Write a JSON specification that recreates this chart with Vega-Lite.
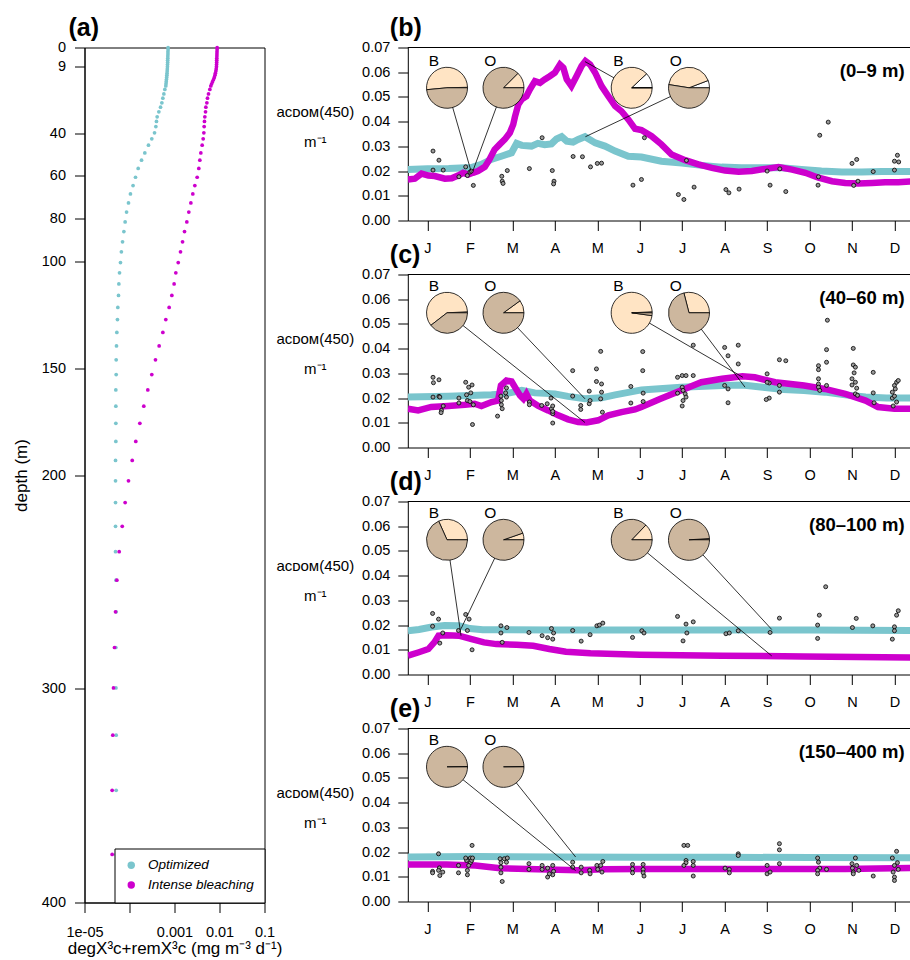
{
"$schema": "https://vega.github.io/schema/vega-lite/v6.json",
"background": "white",
"padding": {"left": 11.5, "top": 15.5, "right": 0, "bottom": 0},
"config": {
 "font": "Liberation Sans",
 "view": {"stroke": null},
 "axis": {"grid": false, "domainColor": "black", "tickColor": "black", "labelColor": "black", "titleColor": "black", "labelFontSize": 14.5, "titleFontSize": 17, "titleFontWeight": "normal", "tickSize": 10, "domainWidth": 1, "tickWidth": 1, "labelFlush": false, "labelOverlap": false, "labelBound": false},
 "title": {"fontSize": 25, "fontWeight": "bold", "anchor": "start", "color": "black", "frame": "group", "baseline": "alphabetic", "offset": -1.7}
},
"datasets": {
 "profile": [
  {"d":0,"m":"Optimized","x":0.00072},{"d":1,"m":"Optimized","x":0.00072},{"d":2,"m":"Optimized","x":0.000715},{"d":3,"m":"Optimized","x":0.000715},{"d":4,"m":"Optimized","x":0.00071},{"d":5,"m":"Optimized","x":0.00071},{"d":6,"m":"Optimized","x":0.000705},{"d":7,"m":"Optimized","x":0.000705},{"d":8,"m":"Optimized","x":0.0007},{"d":9,"m":"Optimized","x":0.000698},{"d":10,"m":"Optimized","x":0.000693},{"d":11,"m":"Optimized","x":0.000688},{"d":12,"m":"Optimized","x":0.000682},{"d":13,"m":"Optimized","x":0.000676},{"d":14,"m":"Optimized","x":0.00067},{"d":15,"m":"Optimized","x":0.000662},{"d":16,"m":"Optimized","x":0.000655},{"d":17,"m":"Optimized","x":0.000648},{"d":18,"m":"Optimized","x":0.000641},
  {"d":19.6,"m":"Optimized","x":0.00061},{"d":21.7,"m":"Optimized","x":0.00058},{"d":23.7,"m":"Optimized","x":0.000551},{"d":25.9,"m":"Optimized","x":0.000524},{"d":27.9,"m":"Optimized","x":0.000489},{"d":30.1,"m":"Optimized","x":0.000449},{"d":32.4,"m":"Optimized","x":0.000412},{"d":34.6,"m":"Optimized","x":0.000398},{"d":37,"m":"Optimized","x":0.000385},{"d":39.9,"m":"Optimized","x":0.00036},{"d":42.7,"m":"Optimized","x":0.000313},{"d":45.7,"m":"Optimized","x":0.000264},{"d":49.3,"m":"Optimized","x":0.000219},{"d":52.7,"m":"Optimized","x":0.000185},{"d":56.6,"m":"Optimized","x":0.000156},{"d":60.7,"m":"Optimized","x":0.000136},{"d":64.6,"m":"Optimized","x":0.00012},{"d":68.5,"m":"Optimized","x":0.000105},{"d":72.7,"m":"Optimized","x":0.000095},{"d":77,"m":"Optimized","x":0.000086},{"d":81.6,"m":"Optimized","x":0.00008},{"d":86.1,"m":"Optimized","x":0.000075},{"d":90.9,"m":"Optimized","x":0.00007},{"d":95.6,"m":"Optimized","x":0.000066},{"d":100.6,"m":"Optimized","x":0.000063},{"d":105.4,"m":"Optimized","x":0.00006},{"d":110.6,"m":"Optimized","x":0.000058},{"d":116,"m":"Optimized","x":0.000057},{"d":121.6,"m":"Optimized","x":0.000055},{"d":127.3,"m":"Optimized","x":0.000054},{"d":133.3,"m":"Optimized","x":0.0000524},{"d":139.6,"m":"Optimized","x":0.0000514},{"d":146.1,"m":"Optimized","x":0.0000506},{"d":153,"m":"Optimized","x":0.0000506},{"d":160.2,"m":"Optimized","x":0.0000497},{"d":167.8,"m":"Optimized","x":0.0000497},{"d":175.8,"m":"Optimized","x":0.0000497},{"d":184.3,"m":"Optimized","x":0.0000497},{"d":193.2,"m":"Optimized","x":0.0000489},{"d":202.7,"m":"Optimized","x":0.0000489},{"d":212.9,"m":"Optimized","x":0.0000489},{"d":224,"m":"Optimized","x":0.0000489},{"d":235.9,"m":"Optimized","x":0.0000489},{"d":249.2,"m":"Optimized","x":0.00005},{"d":264,"m":"Optimized","x":0.0000506},{"d":280.7,"m":"Optimized","x":0.0000497},{"d":299.6,"m":"Optimized","x":0.00005},{"d":321.7,"m":"Optimized","x":0.0000506},{"d":347.5,"m":"Optimized","x":0.0000506},{"d":377.5,"m":"Optimized","x":0.0000506},
  {"d":0,"m":"Intense bleaching","x":0.00887},{"d":1,"m":"Intense bleaching","x":0.00885},{"d":2,"m":"Intense bleaching","x":0.0088},{"d":3,"m":"Intense bleaching","x":0.00878},{"d":4,"m":"Intense bleaching","x":0.00875},{"d":5,"m":"Intense bleaching","x":0.0087},{"d":6,"m":"Intense bleaching","x":0.00868},{"d":7,"m":"Intense bleaching","x":0.00865},{"d":8,"m":"Intense bleaching","x":0.0086},{"d":9,"m":"Intense bleaching","x":0.00857},{"d":10,"m":"Intense bleaching","x":0.00845},{"d":11,"m":"Intense bleaching","x":0.0083},{"d":12,"m":"Intense bleaching","x":0.0081},{"d":13,"m":"Intense bleaching","x":0.0079},{"d":14,"m":"Intense bleaching","x":0.00765},{"d":15,"m":"Intense bleaching","x":0.00735},{"d":16,"m":"Intense bleaching","x":0.007},{"d":17,"m":"Intense bleaching","x":0.0067},{"d":18,"m":"Intense bleaching","x":0.00641},
  {"d":19.6,"m":"Intense bleaching","x":0.0061},{"d":21.7,"m":"Intense bleaching","x":0.0057},{"d":23.7,"m":"Intense bleaching","x":0.00541},{"d":25.9,"m":"Intense bleaching","x":0.00524},{"d":27.9,"m":"Intense bleaching","x":0.00497},{"d":30.1,"m":"Intense bleaching","x":0.00489},{"d":32.4,"m":"Intense bleaching","x":0.00472},{"d":34.6,"m":"Intense bleaching","x":0.00464},{"d":37,"m":"Intense bleaching","x":0.00456},{"d":39.9,"m":"Intense bleaching","x":0.00449},{"d":42.7,"m":"Intense bleaching","x":0.00434},{"d":45.7,"m":"Intense bleaching","x":0.00412},{"d":49.3,"m":"Intense bleaching","x":0.00385},{"d":52.7,"m":"Intense bleaching","x":0.00366},{"d":56.6,"m":"Intense bleaching","x":0.00347},{"d":60.7,"m":"Intense bleaching","x":0.00319},{"d":64.6,"m":"Intense bleaching","x":0.00283},{"d":68.5,"m":"Intense bleaching","x":0.00255},{"d":72.7,"m":"Intense bleaching","x":0.00231},{"d":77,"m":"Intense bleaching","x":0.00208},{"d":81.6,"m":"Intense bleaching","x":0.00188},{"d":86.1,"m":"Intense bleaching","x":0.00167},{"d":90.9,"m":"Intense bleaching","x":0.00151},{"d":95.6,"m":"Intense bleaching","x":0.00136},{"d":100.6,"m":"Intense bleaching","x":0.00121},{"d":105.4,"m":"Intense bleaching","x":0.00107},{"d":110.6,"m":"Intense bleaching","x":0.00098},{"d":116,"m":"Intense bleaching","x":0.000873},{"d":121.6,"m":"Intense bleaching","x":0.00076},{"d":127.3,"m":"Intense bleaching","x":0.000641},{"d":133.3,"m":"Intense bleaching","x":0.000551},{"d":139.6,"m":"Intense bleaching","x":0.000456},{"d":146.1,"m":"Intense bleaching","x":0.000378},{"d":153,"m":"Intense bleaching","x":0.000313},{"d":160.2,"m":"Intense bleaching","x":0.000255},{"d":167.8,"m":"Intense bleaching","x":0.000208},{"d":175.8,"m":"Intense bleaching","x":0.00017},{"d":184.3,"m":"Intense bleaching","x":0.000138},{"d":193.2,"m":"Intense bleaching","x":0.000115},{"d":202.7,"m":"Intense bleaching","x":0.000095},{"d":212.9,"m":"Intense bleaching","x":0.00008},{"d":224,"m":"Intense bleaching","x":0.000069},{"d":235.9,"m":"Intense bleaching","x":0.000059},{"d":249.2,"m":"Intense bleaching","x":0.0000524},{"d":264,"m":"Intense bleaching","x":0.0000489},{"d":280.7,"m":"Intense bleaching","x":0.0000464},{"d":299.6,"m":"Intense bleaching","x":0.0000441},{"d":321.7,"m":"Intense bleaching","x":0.0000426},{"d":347.5,"m":"Intense bleaching","x":0.0000412},{"d":377.5,"m":"Intense bleaching","x":0.0000412}
 ],
 "series": [
  {"p":"b","m":"O","t":0.54,"v":0.0206},{"p":"b","m":"O","t":1.0,"v":0.0209},{"p":"b","m":"O","t":1.5,"v":0.021},{"p":"b","m":"O","t":1.9,"v":0.0213},{"p":"b","m":"O","t":2.03,"v":0.0214},{"p":"b","m":"O","t":2.27,"v":0.0227},{"p":"b","m":"O","t":2.5,"v":0.0247},{"p":"b","m":"O","t":2.74,"v":0.026},{"p":"b","m":"O","t":2.98,"v":0.0274},{"p":"b","m":"O","t":3.1,"v":0.0312},{"p":"b","m":"O","t":3.22,"v":0.0304},{"p":"b","m":"O","t":3.45,"v":0.0301},{"p":"b","m":"O","t":3.6,"v":0.0312},{"p":"b","m":"O","t":3.76,"v":0.0307},{"p":"b","m":"O","t":3.92,"v":0.031},{"p":"b","m":"O","t":4.04,"v":0.033},{"p":"b","m":"O","t":4.16,"v":0.0339},{"p":"b","m":"O","t":4.28,"v":0.0321},{"p":"b","m":"O","t":4.43,"v":0.0317},{"p":"b","m":"O","t":4.55,"v":0.0328},{"p":"b","m":"O","t":4.71,"v":0.0339},{"p":"b","m":"O","t":4.95,"v":0.0314},{"p":"b","m":"O","t":5.18,"v":0.0301},{"p":"b","m":"O","t":5.42,"v":0.0281},{"p":"b","m":"O","t":5.73,"v":0.026},{"p":"b","m":"O","t":6.04,"v":0.0257},{"p":"b","m":"O","t":6.51,"v":0.024},{"p":"b","m":"O","t":6.99,"v":0.0233},{"p":"b","m":"O","t":7.46,"v":0.0223},{"p":"b","m":"O","t":7.93,"v":0.0216},{"p":"b","m":"O","t":8.4,"v":0.0213},{"p":"b","m":"O","t":8.87,"v":0.0213},{"p":"b","m":"O","t":9.34,"v":0.0213},{"p":"b","m":"O","t":9.81,"v":0.0206},{"p":"b","m":"O","t":10.28,"v":0.02},{"p":"b","m":"O","t":10.76,"v":0.0196},{"p":"b","m":"O","t":11.23,"v":0.0196},{"p":"b","m":"O","t":11.7,"v":0.0198},{"p":"b","m":"O","t":12.17,"v":0.0198},{"p":"b","m":"O","t":12.4,"v":0.0198},
  {"p":"b","m":"B","t":0.54,"v":0.0166},{"p":"b","m":"B","t":0.7,"v":0.0169},{"p":"b","m":"B","t":0.86,"v":0.019},{"p":"b","m":"B","t":1.02,"v":0.0182},{"p":"b","m":"B","t":1.17,"v":0.018},{"p":"b","m":"B","t":1.41,"v":0.0169},{"p":"b","m":"B","t":1.57,"v":0.0171},{"p":"b","m":"B","t":1.72,"v":0.0182},{"p":"b","m":"B","t":1.84,"v":0.0193},{"p":"b","m":"B","t":1.96,"v":0.0186},{"p":"b","m":"B","t":2.07,"v":0.0193},{"p":"b","m":"B","t":2.19,"v":0.02},{"p":"b","m":"B","t":2.35,"v":0.0217},{"p":"b","m":"B","t":2.46,"v":0.0247},{"p":"b","m":"B","t":2.58,"v":0.0287},{"p":"b","m":"B","t":2.7,"v":0.0308},{"p":"b","m":"B","t":2.82,"v":0.0328},{"p":"b","m":"B","t":2.94,"v":0.0355},{"p":"b","m":"B","t":3.02,"v":0.0389},{"p":"b","m":"B","t":3.06,"v":0.042},{"p":"b","m":"B","t":3.14,"v":0.047},{"p":"b","m":"B","t":3.22,"v":0.049},{"p":"b","m":"B","t":3.33,"v":0.0503},{"p":"b","m":"B","t":3.41,"v":0.053},{"p":"b","m":"B","t":3.53,"v":0.0564},{"p":"b","m":"B","t":3.65,"v":0.0557},{"p":"b","m":"B","t":3.76,"v":0.0571},{"p":"b","m":"B","t":3.88,"v":0.0584},{"p":"b","m":"B","t":4.0,"v":0.0598},{"p":"b","m":"B","t":4.12,"v":0.0631},{"p":"b","m":"B","t":4.2,"v":0.0618},{"p":"b","m":"B","t":4.28,"v":0.0571},{"p":"b","m":"B","t":4.39,"v":0.0544},{"p":"b","m":"B","t":4.51,"v":0.0584},{"p":"b","m":"B","t":4.63,"v":0.0625},{"p":"b","m":"B","t":4.72,"v":0.0645},{"p":"b","m":"B","t":4.83,"v":0.0631},{"p":"b","m":"B","t":4.95,"v":0.0598},{"p":"b","m":"B","t":5.1,"v":0.0544},{"p":"b","m":"B","t":5.26,"v":0.0503},{"p":"b","m":"B","t":5.42,"v":0.0463},{"p":"b","m":"B","t":5.57,"v":0.0442},{"p":"b","m":"B","t":5.73,"v":0.0409},{"p":"b","m":"B","t":5.89,"v":0.0371},{"p":"b","m":"B","t":6.04,"v":0.0366},{"p":"b","m":"B","t":6.28,"v":0.0341},{"p":"b","m":"B","t":6.51,"v":0.0308},{"p":"b","m":"B","t":6.75,"v":0.0267},{"p":"b","m":"B","t":7.07,"v":0.0244},{"p":"b","m":"B","t":7.38,"v":0.0227},{"p":"b","m":"B","t":7.7,"v":0.0213},{"p":"b","m":"B","t":8.01,"v":0.0202},{"p":"b","m":"B","t":8.33,"v":0.0197},{"p":"b","m":"B","t":8.64,"v":0.02},{"p":"b","m":"B","t":8.96,"v":0.0209},{"p":"b","m":"B","t":9.27,"v":0.0216},{"p":"b","m":"B","t":9.59,"v":0.0206},{"p":"b","m":"B","t":9.9,"v":0.0193},{"p":"b","m":"B","t":10.21,"v":0.0173},{"p":"b","m":"B","t":10.53,"v":0.0159},{"p":"b","m":"B","t":10.84,"v":0.0152},{"p":"b","m":"B","t":11.15,"v":0.015},{"p":"b","m":"B","t":11.47,"v":0.0152},{"p":"b","m":"B","t":11.78,"v":0.0155},{"p":"b","m":"B","t":12.09,"v":0.0155},{"p":"b","m":"B","t":12.4,"v":0.0158},
  {"p":"c","m":"O","t":0.54,"v":0.0204},{"p":"c","m":"O","t":1.49,"v":0.0207},{"p":"c","m":"O","t":2.51,"v":0.0213},{"p":"c","m":"O","t":2.82,"v":0.0217},{"p":"c","m":"O","t":3.22,"v":0.0231},{"p":"c","m":"O","t":3.53,"v":0.0221},{"p":"c","m":"O","t":4.0,"v":0.0217},{"p":"c","m":"O","t":4.31,"v":0.0207},{"p":"c","m":"O","t":4.71,"v":0.0197},{"p":"c","m":"O","t":5.1,"v":0.0201},{"p":"c","m":"O","t":5.42,"v":0.0213},{"p":"c","m":"O","t":6.04,"v":0.0233},{"p":"c","m":"O","t":6.97,"v":0.0244},{"p":"c","m":"O","t":7.94,"v":0.0251},{"p":"c","m":"O","t":8.42,"v":0.0253},{"p":"c","m":"O","t":8.9,"v":0.0244},{"p":"c","m":"O","t":9.39,"v":0.0235},{"p":"c","m":"O","t":9.87,"v":0.0231},{"p":"c","m":"O","t":10.36,"v":0.0224},{"p":"c","m":"O","t":10.84,"v":0.0213},{"p":"c","m":"O","t":11.32,"v":0.0204},{"p":"c","m":"O","t":11.81,"v":0.02},{"p":"c","m":"O","t":12.4,"v":0.02},
  {"p":"c","m":"B","t":0.54,"v":0.0157},{"p":"c","m":"B","t":0.78,"v":0.015},{"p":"c","m":"B","t":1.09,"v":0.0164},{"p":"c","m":"B","t":1.49,"v":0.0168},{"p":"c","m":"B","t":1.88,"v":0.0173},{"p":"c","m":"B","t":2.11,"v":0.0177},{"p":"c","m":"B","t":2.27,"v":0.0168},{"p":"c","m":"B","t":2.51,"v":0.0184},{"p":"c","m":"B","t":2.66,"v":0.019},{"p":"c","m":"B","t":2.73,"v":0.0251},{"p":"c","m":"B","t":2.86,"v":0.0271},{"p":"c","m":"B","t":2.98,"v":0.0267},{"p":"c","m":"B","t":3.06,"v":0.0244},{"p":"c","m":"B","t":3.18,"v":0.0211},{"p":"c","m":"B","t":3.26,"v":0.0197},{"p":"c","m":"B","t":3.33,"v":0.0217},{"p":"c","m":"B","t":3.41,"v":0.019},{"p":"c","m":"B","t":3.61,"v":0.0168},{"p":"c","m":"B","t":3.84,"v":0.015},{"p":"c","m":"B","t":4.08,"v":0.013},{"p":"c","m":"B","t":4.31,"v":0.0114},{"p":"c","m":"B","t":4.55,"v":0.0103},{"p":"c","m":"B","t":4.75,"v":0.0101},{"p":"c","m":"B","t":5.02,"v":0.011},{"p":"c","m":"B","t":5.26,"v":0.013},{"p":"c","m":"B","t":5.57,"v":0.0143},{"p":"c","m":"B","t":5.89,"v":0.0154},{"p":"c","m":"B","t":6.04,"v":0.0164},{"p":"c","m":"B","t":6.49,"v":0.0197},{"p":"c","m":"B","t":6.97,"v":0.0231},{"p":"c","m":"B","t":7.45,"v":0.0264},{"p":"c","m":"B","t":7.94,"v":0.0278},{"p":"c","m":"B","t":8.42,"v":0.0288},{"p":"c","m":"B","t":8.71,"v":0.0284},{"p":"c","m":"B","t":9.19,"v":0.0264},{"p":"c","m":"B","t":9.87,"v":0.0251},{"p":"c","m":"B","t":10.36,"v":0.0237},{"p":"c","m":"B","t":10.84,"v":0.0217},{"p":"c","m":"B","t":11.32,"v":0.019},{"p":"c","m":"B","t":11.61,"v":0.0164},{"p":"c","m":"B","t":12.0,"v":0.0157},{"p":"c","m":"B","t":12.4,"v":0.0157},
  {"p":"d","m":"O","t":0.54,"v":0.0177},{"p":"d","m":"O","t":0.8,"v":0.0182},{"p":"d","m":"O","t":1.1,"v":0.0192},{"p":"d","m":"O","t":1.4,"v":0.0198},{"p":"d","m":"O","t":1.74,"v":0.0197},{"p":"d","m":"O","t":2.0,"v":0.0186},{"p":"d","m":"O","t":2.3,"v":0.0181},{"p":"d","m":"O","t":4.0,"v":0.018},{"p":"d","m":"O","t":6.0,"v":0.018},{"p":"d","m":"O","t":8.0,"v":0.018},{"p":"d","m":"O","t":10.0,"v":0.018},{"p":"d","m":"O","t":12.4,"v":0.0178},
  {"p":"d","m":"B","t":0.54,"v":0.0076},{"p":"d","m":"B","t":0.78,"v":0.0089},{"p":"d","m":"B","t":1.02,"v":0.0103},{"p":"d","m":"B","t":1.16,"v":0.013},{"p":"d","m":"B","t":1.26,"v":0.0157},{"p":"d","m":"B","t":1.45,"v":0.0159},{"p":"d","m":"B","t":1.74,"v":0.0157},{"p":"d","m":"B","t":2.04,"v":0.0143},{"p":"d","m":"B","t":2.33,"v":0.013},{"p":"d","m":"B","t":2.62,"v":0.0123},{"p":"d","m":"B","t":3.1,"v":0.012},{"p":"d","m":"B","t":3.49,"v":0.0116},{"p":"d","m":"B","t":3.87,"v":0.0103},{"p":"d","m":"B","t":4.26,"v":0.0092},{"p":"d","m":"B","t":4.84,"v":0.0086},{"p":"d","m":"B","t":6.0,"v":0.008},{"p":"d","m":"B","t":7.94,"v":0.0076},{"p":"d","m":"B","t":9.87,"v":0.0073},{"p":"d","m":"B","t":12.4,"v":0.0069},
  {"p":"e","m":"O","t":0.54,"v":0.018},{"p":"e","m":"O","t":2.13,"v":0.0182},{"p":"e","m":"O","t":4.0,"v":0.018},{"p":"e","m":"O","t":6.0,"v":0.0179},{"p":"e","m":"O","t":8.0,"v":0.0179},{"p":"e","m":"O","t":10.0,"v":0.0178},{"p":"e","m":"O","t":12.4,"v":0.0177},
  {"p":"e","m":"B","t":0.54,"v":0.015},{"p":"e","m":"B","t":1.45,"v":0.015},{"p":"e","m":"B","t":2.13,"v":0.0146},{"p":"e","m":"B","t":2.71,"v":0.0135},{"p":"e","m":"B","t":3.58,"v":0.013},{"p":"e","m":"B","t":4.55,"v":0.0126},{"p":"e","m":"B","t":5.13,"v":0.013},{"p":"e","m":"B","t":6.0,"v":0.0132},{"p":"e","m":"B","t":8.0,"v":0.0132},{"p":"e","m":"B","t":10.84,"v":0.0132},{"p":"e","m":"B","t":12.4,"v":0.0136}
 ],
 "obs": [
  {"p":"b","t":1.13,"v":0.0281},{"p":"b","t":1.27,"v":0.0244},{"p":"b","t":1.13,"v":0.0204},{"p":"b","t":1.37,"v":0.0204},{"p":"b","t":1.74,"v":0.0177},{"p":"b","t":1.9,"v":0.0217},{"p":"b","t":1.94,"v":0.0182},{"p":"b","t":2.0,"v":0.0196},{"p":"b","t":2.03,"v":0.02},{"p":"b","t":2.08,"v":0.0142},{"p":"b","t":2.75,"v":0.0179},{"p":"b","t":2.76,"v":0.0159},{"p":"b","t":2.78,"v":0.015},{"p":"b","t":2.88,"v":0.0202},{"p":"b","t":3.4,"v":0.021},{"p":"b","t":3.7,"v":0.0335},{"p":"b","t":3.94,"v":0.0202},{"p":"b","t":3.98,"v":0.0159},{"p":"b","t":3.97,"v":0.0148},{"p":"b","t":4.43,"v":0.0259},{"p":"b","t":4.65,"v":0.0258},{"p":"b","t":4.84,"v":0.0217},{"p":"b","t":5.0,"v":0.0231},{"p":"b","t":5.1,"v":0.0232},{"p":"b","t":5.84,"v":0.0143},{"p":"b","t":6.04,"v":0.0166},{"p":"b","t":6.11,"v":0.0335},{"p":"b","t":6.91,"v":0.0105},{"p":"b","t":7.04,"v":0.0085},{"p":"b","t":7.1,"v":0.0243},{"p":"b","t":7.28,"v":0.0135},{"p":"b","t":8.03,"v":0.0125},{"p":"b","t":8.1,"v":0.0112},{"p":"b","t":8.34,"v":0.0127},{"p":"b","t":9.0,"v":0.02},{"p":"b","t":9.07,"v":0.0143},{"p":"b","t":9.3,"v":0.0209},{"p":"b","t":9.44,"v":0.0117},{"p":"b","t":10.21,"v":0.0177},{"p":"b","t":10.2,"v":0.0143},{"p":"b","t":10.24,"v":0.0345},{"p":"b","t":10.44,"v":0.0398},{"p":"b","t":11.0,"v":0.0231},{"p":"b","t":11.11,"v":0.0247},{"p":"b","t":11.04,"v":0.0142},{"p":"b","t":11.14,"v":0.0159},{"p":"b","t":11.5,"v":0.0198},{"p":"b","t":12.0,"v":0.0204},{"p":"b","t":12.07,"v":0.0264},{"p":"b","t":12.0,"v":0.024},{"p":"b","t":12.1,"v":0.0237},
  {"p":"c","t":1.13,"v":0.0284},{"p":"c","t":1.14,"v":0.0262},{"p":"c","t":1.27,"v":0.0274},{"p":"c","t":1.13,"v":0.0204},{"p":"c","t":1.27,"v":0.0207},{"p":"c","t":1.29,"v":0.0204},{"p":"c","t":1.37,"v":0.0168},{"p":"c","t":1.33,"v":0.015},{"p":"c","t":1.32,"v":0.0141},{"p":"c","t":1.74,"v":0.02},{"p":"c","t":1.74,"v":0.018},{"p":"c","t":1.9,"v":0.0264},{"p":"c","t":1.92,"v":0.0213},{"p":"c","t":1.97,"v":0.0244},{"p":"c","t":2.02,"v":0.0221},{"p":"c","t":2.05,"v":0.0253},{"p":"c","t":1.94,"v":0.019},{"p":"c","t":2.0,"v":0.0186},{"p":"c","t":2.08,"v":0.0173},{"p":"c","t":2.06,"v":0.0093},{"p":"c","t":2.65,"v":0.0127},{"p":"c","t":2.73,"v":0.0208},{"p":"c","t":2.74,"v":0.019},{"p":"c","t":2.74,"v":0.0173},{"p":"c","t":2.76,"v":0.0157},{"p":"c","t":2.84,"v":0.0221},{"p":"c","t":2.86,"v":0.0241},{"p":"c","t":2.86,"v":0.0204},{"p":"c","t":3.4,"v":0.0184},{"p":"c","t":3.4,"v":0.0173},{"p":"c","t":3.69,"v":0.017},{"p":"c","t":3.82,"v":0.0177},{"p":"c","t":3.91,"v":0.02},{"p":"c","t":3.92,"v":0.0157},{"p":"c","t":3.95,"v":0.0168},{"p":"c","t":3.95,"v":0.0137},{"p":"c","t":3.95,"v":0.0099},{"p":"c","t":3.95,"v":0.0146},{"p":"c","t":4.42,"v":0.0311},{"p":"c","t":4.42,"v":0.0208},{"p":"c","t":4.61,"v":0.017},{"p":"c","t":4.61,"v":0.0154},{"p":"c","t":4.81,"v":0.0228},{"p":"c","t":4.81,"v":0.0177},{"p":"c","t":4.83,"v":0.019},{"p":"c","t":4.98,"v":0.0318},{"p":"c","t":4.98,"v":0.0267},{"p":"c","t":5.08,"v":0.0389},{"p":"c","t":5.1,"v":0.0257},{"p":"c","t":5.1,"v":0.0224},{"p":"c","t":5.08,"v":0.0197},{"p":"c","t":5.12,"v":0.0143},{"p":"c","t":5.79,"v":0.0247},{"p":"c","t":5.79,"v":0.018},{"p":"c","t":6.07,"v":0.0388},{"p":"c","t":6.07,"v":0.0311},{"p":"c","t":6.08,"v":0.022},{"p":"c","t":6.08,"v":0.0186},{"p":"c","t":6.89,"v":0.0284},{"p":"c","t":7.0,"v":0.0291},{"p":"c","t":7.09,"v":0.0291},{"p":"c","t":7.26,"v":0.0291},{"p":"c","t":7.0,"v":0.0244},{"p":"c","t":7.02,"v":0.0231},{"p":"c","t":7.07,"v":0.0217},{"p":"c","t":7.09,"v":0.0204},{"p":"c","t":7.02,"v":0.019},{"p":"c","t":7.0,"v":0.0168},{"p":"c","t":6.89,"v":0.022},{"p":"c","t":7.26,"v":0.0414},{"p":"c","t":8.0,"v":0.0405},{"p":"c","t":8.08,"v":0.0371},{"p":"c","t":8.32,"v":0.0414},{"p":"c","t":8.32,"v":0.0338},{"p":"c","t":8.0,"v":0.0251},{"p":"c","t":8.08,"v":0.0237},{"p":"c","t":8.08,"v":0.0181},{"p":"c","t":9.0,"v":0.0298},{"p":"c","t":9.05,"v":0.0261},{"p":"c","t":9.0,"v":0.0264},{"p":"c","t":9.05,"v":0.02},{"p":"c","t":8.98,"v":0.0194},{"p":"c","t":9.29,"v":0.0251},{"p":"c","t":9.29,"v":0.0224},{"p":"c","t":9.29,"v":0.0355},{"p":"c","t":9.44,"v":0.0351},{"p":"c","t":10.21,"v":0.0331},{"p":"c","t":10.21,"v":0.0315},{"p":"c","t":10.21,"v":0.0278},{"p":"c","t":10.21,"v":0.0257},{"p":"c","t":10.21,"v":0.0244},{"p":"c","t":10.24,"v":0.0231},{"p":"c","t":10.4,"v":0.0345},{"p":"c","t":10.4,"v":0.0396},{"p":"c","t":10.42,"v":0.0515},{"p":"c","t":10.4,"v":0.0251},{"p":"c","t":11.03,"v":0.0401},{"p":"c","t":11.03,"v":0.0334},{"p":"c","t":11.08,"v":0.0325},{"p":"c","t":11.05,"v":0.0302},{"p":"c","t":11.0,"v":0.0278},{"p":"c","t":11.08,"v":0.0264},{"p":"c","t":11.0,"v":0.0253},{"p":"c","t":11.11,"v":0.024},{"p":"c","t":11.08,"v":0.0217},{"p":"c","t":11.13,"v":0.0211},{"p":"c","t":11.5,"v":0.0304},{"p":"c","t":11.5,"v":0.0221},{"p":"c","t":11.52,"v":0.0181},{"p":"c","t":11.95,"v":0.0224},{"p":"c","t":12.0,"v":0.0251},{"p":"c","t":12.05,"v":0.0264},{"p":"c","t":12.09,"v":0.0271},{"p":"c","t":11.95,"v":0.02},{"p":"c","t":12.0,"v":0.0208},{"p":"c","t":11.97,"v":0.0168},{"p":"c","t":12.05,"v":0.0184},{"p":"c","t":12.02,"v":0.0237},
  {"p":"d","t":1.12,"v":0.0247},{"p":"d","t":1.12,"v":0.0195},{"p":"d","t":1.26,"v":0.0224},{"p":"d","t":1.36,"v":0.0168},{"p":"d","t":1.29,"v":0.0127},{"p":"d","t":1.73,"v":0.0178},{"p":"d","t":1.9,"v":0.0243},{"p":"d","t":1.98,"v":0.0224},{"p":"d","t":1.94,"v":0.0178},{"p":"d","t":2.05,"v":0.01},{"p":"d","t":2.73,"v":0.0197},{"p":"d","t":2.87,"v":0.019},{"p":"d","t":2.73,"v":0.0168},{"p":"d","t":2.76,"v":0.013},{"p":"d","t":3.39,"v":0.017},{"p":"d","t":3.7,"v":0.0157},{"p":"d","t":3.83,"v":0.0149},{"p":"d","t":3.92,"v":0.0186},{"p":"d","t":3.97,"v":0.0168},{"p":"d","t":3.95,"v":0.0143},{"p":"d","t":4.42,"v":0.0178},{"p":"d","t":4.62,"v":0.0135},{"p":"d","t":4.83,"v":0.0161},{"p":"d","t":4.99,"v":0.0197},{"p":"d","t":5.05,"v":0.02},{"p":"d","t":5.13,"v":0.0208},{"p":"d","t":5.83,"v":0.015},{"p":"d","t":6.05,"v":0.0177},{"p":"d","t":6.1,"v":0.0168},{"p":"d","t":6.89,"v":0.0235},{"p":"d","t":7.02,"v":0.0136},{"p":"d","t":7.09,"v":0.0204},{"p":"d","t":7.11,"v":0.0168},{"p":"d","t":7.26,"v":0.0213},{"p":"d","t":8.03,"v":0.0165},{"p":"d","t":8.11,"v":0.0168},{"p":"d","t":8.32,"v":0.0177},{"p":"d","t":9.07,"v":0.017},{"p":"d","t":9.29,"v":0.0228},{"p":"d","t":10.19,"v":0.02},{"p":"d","t":10.23,"v":0.024},{"p":"d","t":10.19,"v":0.0146},{"p":"d","t":10.38,"v":0.0355},{"p":"d","t":11.01,"v":0.019},{"p":"d","t":11.1,"v":0.0227},{"p":"d","t":11.49,"v":0.0197},{"p":"d","t":11.95,"v":0.0143},{"p":"d","t":12.0,"v":0.0193},{"p":"d","t":12.0,"v":0.0177},{"p":"d","t":12.05,"v":0.024},{"p":"d","t":12.09,"v":0.0258},
  {"p":"e","t":1.12,"v":0.0122},{"p":"e","t":1.12,"v":0.0116},{"p":"e","t":1.26,"v":0.0193},{"p":"e","t":1.28,"v":0.0136},{"p":"e","t":1.26,"v":0.0126},{"p":"e","t":1.29,"v":0.0105},{"p":"e","t":1.36,"v":0.0119},{"p":"e","t":1.73,"v":0.0146},{"p":"e","t":1.73,"v":0.0116},{"p":"e","t":1.92,"v":0.0166},{"p":"e","t":1.9,"v":0.0176},{"p":"e","t":1.94,"v":0.0126},{"p":"e","t":1.94,"v":0.0108},{"p":"e","t":2.01,"v":0.0176},{"p":"e","t":2.01,"v":0.0157},{"p":"e","t":2.05,"v":0.0227},{"p":"e","t":2.04,"v":0.0166},{"p":"e","t":2.06,"v":0.0176},{"p":"e","t":1.97,"v":0.0146},{"p":"e","t":2.71,"v":0.0173},{"p":"e","t":2.73,"v":0.0157},{"p":"e","t":2.73,"v":0.0139},{"p":"e","t":2.73,"v":0.0116},{"p":"e","t":2.76,"v":0.0081},{"p":"e","t":2.81,"v":0.0173},{"p":"e","t":2.86,"v":0.0159},{"p":"e","t":2.88,"v":0.0176},{"p":"e","t":3.39,"v":0.0153},{"p":"e","t":3.39,"v":0.013},{"p":"e","t":3.7,"v":0.0146},{"p":"e","t":3.7,"v":0.013},{"p":"e","t":3.83,"v":0.0135},{"p":"e","t":3.83,"v":0.0099},{"p":"e","t":3.95,"v":0.0146},{"p":"e","t":3.97,"v":0.0122},{"p":"e","t":3.95,"v":0.0108},{"p":"e","t":3.87,"v":0.0112},{"p":"e","t":4.42,"v":0.0159},{"p":"e","t":4.42,"v":0.0139},{"p":"e","t":4.62,"v":0.0139},{"p":"e","t":4.62,"v":0.0116},{"p":"e","t":4.82,"v":0.0126},{"p":"e","t":4.83,"v":0.0112},{"p":"e","t":4.99,"v":0.0146},{"p":"e","t":5.01,"v":0.013},{"p":"e","t":5.13,"v":0.0162},{"p":"e","t":5.08,"v":0.0146},{"p":"e","t":5.11,"v":0.0119},{"p":"e","t":5.83,"v":0.015},{"p":"e","t":5.83,"v":0.0132},{"p":"e","t":5.83,"v":0.0116},{"p":"e","t":6.08,"v":0.015},{"p":"e","t":6.08,"v":0.013},{"p":"e","t":6.08,"v":0.0116},{"p":"e","t":6.1,"v":0.0103},{"p":"e","t":7.04,"v":0.0227},{"p":"e","t":7.13,"v":0.0227},{"p":"e","t":7.09,"v":0.0166},{"p":"e","t":7.09,"v":0.0157},{"p":"e","t":7.04,"v":0.0146},{"p":"e","t":7.26,"v":0.0162},{"p":"e","t":7.26,"v":0.0146},{"p":"e","t":7.26,"v":0.0103},{"p":"e","t":8.01,"v":0.0135},{"p":"e","t":8.11,"v":0.013},{"p":"e","t":8.11,"v":0.0116},{"p":"e","t":8.32,"v":0.0193},{"p":"e","t":8.32,"v":0.0186},{"p":"e","t":9.0,"v":0.0146},{"p":"e","t":9.0,"v":0.0112},{"p":"e","t":9.07,"v":0.0119},{"p":"e","t":9.29,"v":0.0234},{"p":"e","t":9.29,"v":0.0209},{"p":"e","t":9.29,"v":0.0153},{"p":"e","t":10.19,"v":0.0176},{"p":"e","t":10.21,"v":0.0159},{"p":"e","t":10.24,"v":0.0135},{"p":"e","t":10.19,"v":0.0126},{"p":"e","t":10.19,"v":0.0112},{"p":"e","t":10.4,"v":0.013},{"p":"e","t":11.0,"v":0.0153},{"p":"e","t":11.01,"v":0.0135},{"p":"e","t":11.03,"v":0.0119},{"p":"e","t":11.03,"v":0.0112},{"p":"e","t":11.08,"v":0.0176},{"p":"e","t":11.11,"v":0.0146},{"p":"e","t":11.16,"v":0.0126},{"p":"e","t":11.5,"v":0.0103},{"p":"e","t":11.95,"v":0.0176},{"p":"e","t":12.05,"v":0.0203},{"p":"e","t":12.0,"v":0.0146},{"p":"e","t":12.07,"v":0.0157},{"p":"e","t":11.97,"v":0.0119},{"p":"e","t":12.0,"v":0.0099},{"p":"e","t":12.0,"v":0.0085},{"p":"e","t":12.09,"v":0.013}
 ],
 "pies": [
  {"p":"b","pie":"B1","k":1,"part":"S","f":0.004,"t":1.46,"v":0.0537},{"p":"b","pie":"B1","k":2,"part":"A","f":0.511,"t":1.46,"v":0.0537},{"p":"b","pie":"B1","k":3,"part":"C","f":0.485,"t":1.46,"v":0.0537},
  {"p":"b","pie":"O1","k":1,"part":"S","f":0,"t":2.79,"v":0.0537},{"p":"b","pie":"O1","k":2,"part":"A","f":0.125,"t":2.79,"v":0.0537},{"p":"b","pie":"O1","k":3,"part":"C","f":0.875,"t":2.79,"v":0.0537},
  {"p":"b","pie":"B2","k":1,"part":"S","f":0.12,"t":5.81,"v":0.0537},{"p":"b","pie":"B2","k":2,"part":"A","f":0.88,"t":5.81,"v":0.0537},{"p":"b","pie":"B2","k":3,"part":"C","f":0,"t":5.81,"v":0.0537},
  {"p":"b","pie":"O2","k":1,"part":"S","f":0.058,"t":7.16,"v":0.0537},{"p":"b","pie":"O2","k":2,"part":"A","f":0.417,"t":7.16,"v":0.0537},{"p":"b","pie":"O2","k":3,"part":"C","f":0.525,"t":7.16,"v":0.0537},
  {"p":"c","pie":"B1","k":1,"part":"S","f":0.008,"t":1.46,"v":0.0545},{"p":"c","pie":"B1","k":2,"part":"A","f":0.597,"t":1.46,"v":0.0545},{"p":"c","pie":"B1","k":3,"part":"C","f":0.395,"t":1.46,"v":0.0545},
  {"p":"c","pie":"O1","k":1,"part":"S","f":0,"t":2.79,"v":0.0545},{"p":"c","pie":"O1","k":2,"part":"A","f":0.1,"t":2.79,"v":0.0545},{"p":"c","pie":"O1","k":3,"part":"C","f":0.9,"t":2.79,"v":0.0545},
  {"p":"c","pie":"B2","k":1,"part":"S","f":0.008,"t":5.81,"v":0.0545},{"p":"c","pie":"B2","k":2,"part":"A","f":0.97,"t":5.81,"v":0.0545},{"p":"c","pie":"B2","k":3,"part":"C","f":0.022,"t":5.81,"v":0.0545},
  {"p":"c","pie":"O2","k":1,"part":"S","f":0,"t":7.16,"v":0.0545},{"p":"c","pie":"O2","k":2,"part":"A","f":0.29,"t":7.16,"v":0.0545},{"p":"c","pie":"O2","k":3,"part":"C","f":0.71,"t":7.16,"v":0.0545},
  {"p":"d","pie":"B1","k":1,"part":"S","f":0,"t":1.46,"v":0.0545},{"p":"d","pie":"B1","k":2,"part":"A","f":0.317,"t":1.46,"v":0.0545},{"p":"d","pie":"B1","k":3,"part":"C","f":0.683,"t":1.46,"v":0.0545},
  {"p":"d","pie":"O1","k":1,"part":"S","f":0,"t":2.79,"v":0.0545},{"p":"d","pie":"O1","k":2,"part":"A","f":0.053,"t":2.79,"v":0.0545},{"p":"d","pie":"O1","k":3,"part":"C","f":0.947,"t":2.79,"v":0.0545},
  {"p":"d","pie":"B2","k":1,"part":"S","f":0,"t":5.81,"v":0.0545},{"p":"d","pie":"B2","k":2,"part":"A","f":0.128,"t":5.81,"v":0.0545},{"p":"d","pie":"B2","k":3,"part":"C","f":0.872,"t":5.81,"v":0.0545},
  {"p":"d","pie":"O2","k":1,"part":"S","f":0,"t":7.16,"v":0.0545},{"p":"d","pie":"O2","k":2,"part":"A","f":0.01,"t":7.16,"v":0.0545},{"p":"d","pie":"O2","k":3,"part":"C","f":0.99,"t":7.16,"v":0.0545},
  {"p":"e","pie":"B1","k":1,"part":"S","f":0,"t":1.46,"v":0.0545},{"p":"e","pie":"B1","k":2,"part":"A","f":0.002,"t":1.46,"v":0.0545},{"p":"e","pie":"B1","k":3,"part":"C","f":0.998,"t":1.46,"v":0.0545},
  {"p":"e","pie":"O1","k":1,"part":"S","f":0,"t":2.79,"v":0.0545},{"p":"e","pie":"O1","k":2,"part":"A","f":0.002,"t":2.79,"v":0.0545},{"p":"e","pie":"O1","k":3,"part":"C","f":0.998,"t":2.79,"v":0.0545}
 ],
 "leaders": [
  {"p":"b","t":1.46,"v":0.0537,"t2":2.03,"v2":0.0197},{"p":"b","t":2.79,"v":0.0537,"t2":2.07,"v2":0.0201},{"p":"b","t":5.81,"v":0.0537,"t2":4.71,"v2":0.0643},{"p":"b","t":7.16,"v":0.0537,"t2":4.72,"v2":0.0339},
  {"p":"c","t":1.46,"v":0.0545,"t2":4.71,"v2":0.0101},{"p":"c","t":2.79,"v":0.0545,"t2":4.71,"v2":0.0197},{"p":"c","t":5.81,"v":0.0545,"t2":8.43,"v2":0.0284},{"p":"c","t":7.16,"v":0.0545,"t2":8.48,"v2":0.0244},
  {"p":"d","t":1.46,"v":0.0545,"t2":1.79,"v2":0.0157},{"p":"d","t":2.79,"v":0.0545,"t2":1.79,"v2":0.0185},{"p":"d","t":5.81,"v":0.0545,"t2":9.11,"v2":0.0075},{"p":"d","t":7.16,"v":0.0545,"t2":9.11,"v2":0.0182},
  {"p":"e","t":1.46,"v":0.0545,"t2":4.49,"v2":0.0125},{"p":"e","t":2.79,"v":0.0545,"t2":4.49,"v2":0.018}
 ],
 "labels": [
  {"p":"b","t":1.15,"v":0.0645,"s":"B"},{"p":"b","t":2.48,"v":0.0645,"s":"O"},{"p":"b","t":5.5,"v":0.0645,"s":"B"},{"p":"b","t":6.85,"v":0.0645,"s":"O"},
  {"p":"c","t":1.15,"v":0.0653,"s":"B"},{"p":"c","t":2.48,"v":0.0653,"s":"O"},{"p":"c","t":5.5,"v":0.0653,"s":"B"},{"p":"c","t":6.85,"v":0.0653,"s":"O"},
  {"p":"d","t":1.15,"v":0.0653,"s":"B"},{"p":"d","t":2.48,"v":0.0653,"s":"O"},{"p":"d","t":5.5,"v":0.0653,"s":"B"},{"p":"d","t":6.85,"v":0.0653,"s":"O"},
  {"p":"e","t":1.15,"v":0.0653,"s":"B"},{"p":"e","t":2.48,"v":0.0653,"s":"O"}
 ],
 "depths": [
  {"p":"b","t":12.24,"v":0.0603,"s":"(0–9 m)"},{"p":"c","t":12.24,"v":0.0603,"s":"(40–60 m)"},{"p":"d","t":12.24,"v":0.0603,"s":"(80–100 m)"},{"p":"e","t":12.24,"v":0.0603,"s":"(150–400 m)"}
 ]
},
"hconcat": [
 {
  "width": 180, "height": 855,
  "view": {"stroke": "black", "strokeWidth": 1},
  "title": {"text": "(a)", "dx": -16},
  "data": {"name": "profile"},
  "mark": {"type": "circle", "size": 14, "opacity": 1},
  "encoding": {
   "x": {"field": "x", "type": "quantitative", "scale": {"type": "log", "domain": [0.00001, 0.1], "nice": false},
         "axis": {"values": [0.00001, 0.0001, 0.001, 0.01, 0.1], "labelExpr": "datum.value < 2e-5 ? '1e-05' : datum.value < 2e-4 ? '' : datum.value < 2e-3 ? '0.001' : datum.value < 2e-2 ? '0.01' : '0.1'", "title": "degX³ᴄ+remX³ᴄ (mg m⁻³ d⁻¹)", "labelPadding": 12.5, "titlePadding": 1.5}},
   "y": {"field": "d", "type": "quantitative", "scale": {"domain": [0, 400], "reverse": true, "nice": false, "zero": false},
         "axis": {"values": [0, 9, 40, 60, 80, 100, 150, 200, 300, 400], "title": "depth (m)", "labelPadding": 9, "titleX": -63, "titleY": 427.5, "titleBaseline": "middle"}},
   "color": {"field": "m", "type": "nominal", "scale": {"domain": ["Optimized", "Intense bleaching"], "range": ["#7AC5CD", "#CD00CD"]},
             "legend": {"title": null, "orient": "bottom-right", "offset": 0, "padding": 10, "strokeColor": "black", "fillColor": "white", "labelFontStyle": "italic", "labelFontSize": 13.5, "labelColor": "black", "symbolSize": 55, "symbolType": "circle", "rowPadding": 4.8, "labelOffset": 10, "symbolStrokeWidth": 0}}
  }
 },
 {
  "vconcat": [
   {
    "width": 503, "height": 173, "view": {"stroke": null},
    "title": {"text": "(b)", "dx": -18},
    "resolve": {"axis": {"x": "independent", "y": "independent"}},
    "layer": [
     {"data": {"name": "series"}, "transform": [{"filter": "datum.p=='b' && datum.m=='O'"}], "mark": {"type": "line", "color": "#7AC5CD", "strokeWidth": 7, "clip": true},
      "encoding": {
       "x": {"field": "t", "type": "quantitative", "scale": {"domain": [0.536, 12.385], "nice": false, "zero": false}, "axis": {"values": [1,2,3,4,5,6,7,8,9,10,11,12], "labelExpr": "['J','F','M','A','M','J','J','A','S','O','N','D'][datum.value-1]", "title": null, "labelPadding": 11}},
       "y": {"field": "v", "type": "quantitative", "scale": {"domain": [0, 0.07], "nice": false, "zero": false}, "axis": {"values": [0,0.01,0.02,0.03,0.04,0.05,0.06,0.07], "format": ".2f", "labelPadding": 8, "title": ["aᴄᴅᴏᴍ(450)", "m⁻¹"], "titleAngle": 0, "titleAlign": "center", "titleBaseline": "alphabetic", "titleX": -93, "titleY": 68.5, "titleLineHeight": 30, "titleFontSize": 15}}}},
     {"data": {"name": "series"}, "transform": [{"filter": "datum.p=='b' && datum.m=='B'"}], "mark": {"type": "line", "color": "#CD00CD", "strokeWidth": 6.5, "clip": true},
      "encoding": {"x": {"field": "t", "type": "quantitative", "scale": {"domain": [0.536, 12.385], "nice": false, "zero": false}, "axis": null}, "y": {"field": "v", "type": "quantitative", "scale": {"domain": [0, 0.07], "nice": false, "zero": false}, "axis": null}}},
     {"data": {"values": [{}]}, "mark": {"type": "rule", "color": "black", "strokeWidth": 1}, "encoding": {"y": {"datum": 0.07, "type": "quantitative", "scale": {"domain": [0, 0.07], "nice": false, "zero": false}, "axis": null}}},
     {"data": {"name": "obs"}, "transform": [{"filter": "datum.p=='b'"}], "mark": {"type": "point", "shape": "circle", "filled": true, "fill": "#999999", "stroke": "black", "strokeWidth": 0.8, "size": 16, "opacity": 1},
      "encoding": {"x": {"field": "t", "type": "quantitative", "scale": {"domain": [0.536, 12.385], "nice": false, "zero": false}, "axis": null}, "y": {"field": "v", "type": "quantitative", "scale": {"domain": [0, 0.07], "nice": false, "zero": false}, "axis": null}}},
     {"data": {"name": "leaders"}, "transform": [{"filter": "datum.p=='b'"}], "mark": {"type": "rule", "color": "black", "strokeWidth": 0.8},
      "encoding": {"x": {"field": "t", "type": "quantitative", "scale": {"domain": [0.536, 12.385], "nice": false, "zero": false}, "axis": null}, "y": {"field": "v", "type": "quantitative", "scale": {"domain": [0, 0.07], "nice": false, "zero": false}, "axis": null}, "x2": {"field": "t2"}, "y2": {"field": "v2"}}},
     {"data": {"name": "pies"}, "transform": [{"filter": "datum.p=='b'"}, {"stack": "f", "groupby": ["pie"], "sort": [{"field": "k", "order": "ascending"}], "as": ["f0", "f1"]}], "mark": {"type": "arc", "radius": 20.5, "stroke": "black", "strokeWidth": 0.8},
      "encoding": {"x": {"field": "t", "type": "quantitative", "scale": {"domain": [0.536, 12.385], "nice": false, "zero": false}, "axis": null}, "y": {"field": "v", "type": "quantitative", "scale": {"domain": [0, 0.07], "nice": false, "zero": false}, "axis": null},
       "theta": {"field": "f0", "type": "quantitative", "scale": {"domain": [0, 1], "range": [1.5708, -4.71239]}}, "theta2": {"field": "f1"},
       "color": {"field": "part", "type": "nominal", "scale": {"domain": ["S", "A", "C"], "range": ["#FFFFFF", "#FFE4C4", "#CDB79E"]}, "legend": null}}},
     {"data": {"name": "labels"}, "transform": [{"filter": "datum.p=='b'"}], "mark": {"type": "text", "fontSize": 15.5, "align": "center", "baseline": "middle", "color": "black"},
      "encoding": {"x": {"field": "t", "type": "quantitative", "scale": {"domain": [0.536, 12.385], "nice": false, "zero": false}, "axis": null}, "y": {"field": "v", "type": "quantitative", "scale": {"domain": [0, 0.07], "nice": false, "zero": false}, "axis": null}, "text": {"field": "s"}}},
     {"data": {"name": "depths"}, "transform": [{"filter": "datum.p=='b'"}], "mark": {"type": "text", "fontSize": 18.5, "fontWeight": "bold", "align": "right", "baseline": "middle", "color": "black"},
      "encoding": {"x": {"field": "t", "type": "quantitative", "scale": {"domain": [0.536, 12.385], "nice": false, "zero": false}, "axis": null}, "y": {"field": "v", "type": "quantitative", "scale": {"domain": [0, 0.07], "nice": false, "zero": false}, "axis": null}, "text": {"field": "s"}}}
    ]
   },
   {
    "width": 503, "height": 173, "view": {"stroke": null},
    "title": {"text": "(c)", "dx": -18},
    "resolve": {"axis": {"x": "independent", "y": "independent"}},
    "layer": [
     {"data": {"name": "series"}, "transform": [{"filter": "datum.p=='c' && datum.m=='O'"}], "mark": {"type": "line", "color": "#7AC5CD", "strokeWidth": 7, "clip": true},
      "encoding": {
       "x": {"field": "t", "type": "quantitative", "scale": {"domain": [0.536, 12.385], "nice": false, "zero": false}, "axis": {"values": [1,2,3,4,5,6,7,8,9,10,11,12], "labelExpr": "['J','F','M','A','M','J','J','A','S','O','N','D'][datum.value-1]", "title": null, "labelPadding": 11}},
       "y": {"field": "v", "type": "quantitative", "scale": {"domain": [0, 0.07], "nice": false, "zero": false}, "axis": {"values": [0,0.01,0.02,0.03,0.04,0.05,0.06,0.07], "format": ".2f", "labelPadding": 8, "title": ["aᴄᴅᴏᴍ(450)", "m⁻¹"], "titleAngle": 0, "titleAlign": "center", "titleBaseline": "alphabetic", "titleX": -93, "titleY": 68.5, "titleLineHeight": 30, "titleFontSize": 15}}}},
     {"data": {"name": "series"}, "transform": [{"filter": "datum.p=='c' && datum.m=='B'"}], "mark": {"type": "line", "color": "#CD00CD", "strokeWidth": 6.5, "clip": true},
      "encoding": {"x": {"field": "t", "type": "quantitative", "scale": {"domain": [0.536, 12.385], "nice": false, "zero": false}, "axis": null}, "y": {"field": "v", "type": "quantitative", "scale": {"domain": [0, 0.07], "nice": false, "zero": false}, "axis": null}}},
     {"data": {"values": [{}]}, "mark": {"type": "rule", "color": "black", "strokeWidth": 1}, "encoding": {"y": {"datum": 0.07, "type": "quantitative", "scale": {"domain": [0, 0.07], "nice": false, "zero": false}, "axis": null}}},
     {"data": {"name": "obs"}, "transform": [{"filter": "datum.p=='c'"}], "mark": {"type": "point", "shape": "circle", "filled": true, "fill": "#999999", "stroke": "black", "strokeWidth": 0.8, "size": 16, "opacity": 1},
      "encoding": {"x": {"field": "t", "type": "quantitative", "scale": {"domain": [0.536, 12.385], "nice": false, "zero": false}, "axis": null}, "y": {"field": "v", "type": "quantitative", "scale": {"domain": [0, 0.07], "nice": false, "zero": false}, "axis": null}}},
     {"data": {"name": "leaders"}, "transform": [{"filter": "datum.p=='c'"}], "mark": {"type": "rule", "color": "black", "strokeWidth": 0.8},
      "encoding": {"x": {"field": "t", "type": "quantitative", "scale": {"domain": [0.536, 12.385], "nice": false, "zero": false}, "axis": null}, "y": {"field": "v", "type": "quantitative", "scale": {"domain": [0, 0.07], "nice": false, "zero": false}, "axis": null}, "x2": {"field": "t2"}, "y2": {"field": "v2"}}},
     {"data": {"name": "pies"}, "transform": [{"filter": "datum.p=='c'"}, {"stack": "f", "groupby": ["pie"], "sort": [{"field": "k", "order": "ascending"}], "as": ["f0", "f1"]}], "mark": {"type": "arc", "radius": 20.5, "stroke": "black", "strokeWidth": 0.8},
      "encoding": {"x": {"field": "t", "type": "quantitative", "scale": {"domain": [0.536, 12.385], "nice": false, "zero": false}, "axis": null}, "y": {"field": "v", "type": "quantitative", "scale": {"domain": [0, 0.07], "nice": false, "zero": false}, "axis": null},
       "theta": {"field": "f0", "type": "quantitative", "scale": {"domain": [0, 1], "range": [1.5708, -4.71239]}}, "theta2": {"field": "f1"},
       "color": {"field": "part", "type": "nominal", "scale": {"domain": ["S", "A", "C"], "range": ["#FFFFFF", "#FFE4C4", "#CDB79E"]}, "legend": null}}},
     {"data": {"name": "labels"}, "transform": [{"filter": "datum.p=='c'"}], "mark": {"type": "text", "fontSize": 15.5, "align": "center", "baseline": "middle", "color": "black"},
      "encoding": {"x": {"field": "t", "type": "quantitative", "scale": {"domain": [0.536, 12.385], "nice": false, "zero": false}, "axis": null}, "y": {"field": "v", "type": "quantitative", "scale": {"domain": [0, 0.07], "nice": false, "zero": false}, "axis": null}, "text": {"field": "s"}}},
     {"data": {"name": "depths"}, "transform": [{"filter": "datum.p=='c'"}], "mark": {"type": "text", "fontSize": 18.5, "fontWeight": "bold", "align": "right", "baseline": "middle", "color": "black"},
      "encoding": {"x": {"field": "t", "type": "quantitative", "scale": {"domain": [0.536, 12.385], "nice": false, "zero": false}, "axis": null}, "y": {"field": "v", "type": "quantitative", "scale": {"domain": [0, 0.07], "nice": false, "zero": false}, "axis": null}, "text": {"field": "s"}}}
    ]
   },
   {
    "width": 503, "height": 173, "view": {"stroke": null},
    "title": {"text": "(d)", "dx": -18},
    "resolve": {"axis": {"x": "independent", "y": "independent"}},
    "layer": [
     {"data": {"name": "series"}, "transform": [{"filter": "datum.p=='d' && datum.m=='O'"}], "mark": {"type": "line", "color": "#7AC5CD", "strokeWidth": 7, "clip": true},
      "encoding": {
       "x": {"field": "t", "type": "quantitative", "scale": {"domain": [0.536, 12.385], "nice": false, "zero": false}, "axis": {"values": [1,2,3,4,5,6,7,8,9,10,11,12], "labelExpr": "['J','F','M','A','M','J','J','A','S','O','N','D'][datum.value-1]", "title": null, "labelPadding": 11}},
       "y": {"field": "v", "type": "quantitative", "scale": {"domain": [0, 0.07], "nice": false, "zero": false}, "axis": {"values": [0,0.01,0.02,0.03,0.04,0.05,0.06,0.07], "format": ".2f", "labelPadding": 8, "title": ["aᴄᴅᴏᴍ(450)", "m⁻¹"], "titleAngle": 0, "titleAlign": "center", "titleBaseline": "alphabetic", "titleX": -93, "titleY": 68.5, "titleLineHeight": 30, "titleFontSize": 15}}}},
     {"data": {"name": "series"}, "transform": [{"filter": "datum.p=='d' && datum.m=='B'"}], "mark": {"type": "line", "color": "#CD00CD", "strokeWidth": 6.5, "clip": true},
      "encoding": {"x": {"field": "t", "type": "quantitative", "scale": {"domain": [0.536, 12.385], "nice": false, "zero": false}, "axis": null}, "y": {"field": "v", "type": "quantitative", "scale": {"domain": [0, 0.07], "nice": false, "zero": false}, "axis": null}}},
     {"data": {"values": [{}]}, "mark": {"type": "rule", "color": "black", "strokeWidth": 1}, "encoding": {"y": {"datum": 0.07, "type": "quantitative", "scale": {"domain": [0, 0.07], "nice": false, "zero": false}, "axis": null}}},
     {"data": {"name": "obs"}, "transform": [{"filter": "datum.p=='d'"}], "mark": {"type": "point", "shape": "circle", "filled": true, "fill": "#999999", "stroke": "black", "strokeWidth": 0.8, "size": 16, "opacity": 1},
      "encoding": {"x": {"field": "t", "type": "quantitative", "scale": {"domain": [0.536, 12.385], "nice": false, "zero": false}, "axis": null}, "y": {"field": "v", "type": "quantitative", "scale": {"domain": [0, 0.07], "nice": false, "zero": false}, "axis": null}}},
     {"data": {"name": "leaders"}, "transform": [{"filter": "datum.p=='d'"}], "mark": {"type": "rule", "color": "black", "strokeWidth": 0.8},
      "encoding": {"x": {"field": "t", "type": "quantitative", "scale": {"domain": [0.536, 12.385], "nice": false, "zero": false}, "axis": null}, "y": {"field": "v", "type": "quantitative", "scale": {"domain": [0, 0.07], "nice": false, "zero": false}, "axis": null}, "x2": {"field": "t2"}, "y2": {"field": "v2"}}},
     {"data": {"name": "pies"}, "transform": [{"filter": "datum.p=='d'"}, {"stack": "f", "groupby": ["pie"], "sort": [{"field": "k", "order": "ascending"}], "as": ["f0", "f1"]}], "mark": {"type": "arc", "radius": 20.5, "stroke": "black", "strokeWidth": 0.8},
      "encoding": {"x": {"field": "t", "type": "quantitative", "scale": {"domain": [0.536, 12.385], "nice": false, "zero": false}, "axis": null}, "y": {"field": "v", "type": "quantitative", "scale": {"domain": [0, 0.07], "nice": false, "zero": false}, "axis": null},
       "theta": {"field": "f0", "type": "quantitative", "scale": {"domain": [0, 1], "range": [1.5708, -4.71239]}}, "theta2": {"field": "f1"},
       "color": {"field": "part", "type": "nominal", "scale": {"domain": ["S", "A", "C"], "range": ["#FFFFFF", "#FFE4C4", "#CDB79E"]}, "legend": null}}},
     {"data": {"name": "labels"}, "transform": [{"filter": "datum.p=='d'"}], "mark": {"type": "text", "fontSize": 15.5, "align": "center", "baseline": "middle", "color": "black"},
      "encoding": {"x": {"field": "t", "type": "quantitative", "scale": {"domain": [0.536, 12.385], "nice": false, "zero": false}, "axis": null}, "y": {"field": "v", "type": "quantitative", "scale": {"domain": [0, 0.07], "nice": false, "zero": false}, "axis": null}, "text": {"field": "s"}}},
     {"data": {"name": "depths"}, "transform": [{"filter": "datum.p=='d'"}], "mark": {"type": "text", "fontSize": 18.5, "fontWeight": "bold", "align": "right", "baseline": "middle", "color": "black"},
      "encoding": {"x": {"field": "t", "type": "quantitative", "scale": {"domain": [0.536, 12.385], "nice": false, "zero": false}, "axis": null}, "y": {"field": "v", "type": "quantitative", "scale": {"domain": [0, 0.07], "nice": false, "zero": false}, "axis": null}, "text": {"field": "s"}}}
    ]
   },
   {
    "width": 503, "height": 173, "view": {"stroke": null},
    "title": {"text": "(e)", "dx": -18},
    "resolve": {"axis": {"x": "independent", "y": "independent"}},
    "layer": [
     {"data": {"name": "series"}, "transform": [{"filter": "datum.p=='e' && datum.m=='O'"}], "mark": {"type": "line", "color": "#7AC5CD", "strokeWidth": 7, "clip": true},
      "encoding": {
       "x": {"field": "t", "type": "quantitative", "scale": {"domain": [0.536, 12.385], "nice": false, "zero": false}, "axis": {"values": [1,2,3,4,5,6,7,8,9,10,11,12], "labelExpr": "['J','F','M','A','M','J','J','A','S','O','N','D'][datum.value-1]", "title": null, "labelPadding": 11}},
       "y": {"field": "v", "type": "quantitative", "scale": {"domain": [0, 0.07], "nice": false, "zero": false}, "axis": {"values": [0,0.01,0.02,0.03,0.04,0.05,0.06,0.07], "format": ".2f", "labelPadding": 8, "title": ["aᴄᴅᴏᴍ(450)", "m⁻¹"], "titleAngle": 0, "titleAlign": "center", "titleBaseline": "alphabetic", "titleX": -93, "titleY": 68.5, "titleLineHeight": 30, "titleFontSize": 15}}}},
     {"data": {"name": "series"}, "transform": [{"filter": "datum.p=='e' && datum.m=='B'"}], "mark": {"type": "line", "color": "#CD00CD", "strokeWidth": 6.5, "clip": true},
      "encoding": {"x": {"field": "t", "type": "quantitative", "scale": {"domain": [0.536, 12.385], "nice": false, "zero": false}, "axis": null}, "y": {"field": "v", "type": "quantitative", "scale": {"domain": [0, 0.07], "nice": false, "zero": false}, "axis": null}}},
     {"data": {"values": [{}]}, "mark": {"type": "rule", "color": "black", "strokeWidth": 1}, "encoding": {"y": {"datum": 0.07, "type": "quantitative", "scale": {"domain": [0, 0.07], "nice": false, "zero": false}, "axis": null}}},
     {"data": {"name": "obs"}, "transform": [{"filter": "datum.p=='e'"}], "mark": {"type": "point", "shape": "circle", "filled": true, "fill": "#999999", "stroke": "black", "strokeWidth": 0.8, "size": 16, "opacity": 1},
      "encoding": {"x": {"field": "t", "type": "quantitative", "scale": {"domain": [0.536, 12.385], "nice": false, "zero": false}, "axis": null}, "y": {"field": "v", "type": "quantitative", "scale": {"domain": [0, 0.07], "nice": false, "zero": false}, "axis": null}}},
     {"data": {"name": "leaders"}, "transform": [{"filter": "datum.p=='e'"}], "mark": {"type": "rule", "color": "black", "strokeWidth": 0.8},
      "encoding": {"x": {"field": "t", "type": "quantitative", "scale": {"domain": [0.536, 12.385], "nice": false, "zero": false}, "axis": null}, "y": {"field": "v", "type": "quantitative", "scale": {"domain": [0, 0.07], "nice": false, "zero": false}, "axis": null}, "x2": {"field": "t2"}, "y2": {"field": "v2"}}},
     {"data": {"name": "pies"}, "transform": [{"filter": "datum.p=='e'"}, {"stack": "f", "groupby": ["pie"], "sort": [{"field": "k", "order": "ascending"}], "as": ["f0", "f1"]}], "mark": {"type": "arc", "radius": 20.5, "stroke": "black", "strokeWidth": 0.8},
      "encoding": {"x": {"field": "t", "type": "quantitative", "scale": {"domain": [0.536, 12.385], "nice": false, "zero": false}, "axis": null}, "y": {"field": "v", "type": "quantitative", "scale": {"domain": [0, 0.07], "nice": false, "zero": false}, "axis": null},
       "theta": {"field": "f0", "type": "quantitative", "scale": {"domain": [0, 1], "range": [1.5708, -4.71239]}}, "theta2": {"field": "f1"},
       "color": {"field": "part", "type": "nominal", "scale": {"domain": ["S", "A", "C"], "range": ["#FFFFFF", "#FFE4C4", "#CDB79E"]}, "legend": null}}},
     {"data": {"name": "labels"}, "transform": [{"filter": "datum.p=='e'"}], "mark": {"type": "text", "fontSize": 15.5, "align": "center", "baseline": "middle", "color": "black"},
      "encoding": {"x": {"field": "t", "type": "quantitative", "scale": {"domain": [0.536, 12.385], "nice": false, "zero": false}, "axis": null}, "y": {"field": "v", "type": "quantitative", "scale": {"domain": [0, 0.07], "nice": false, "zero": false}, "axis": null}, "text": {"field": "s"}}},
     {"data": {"name": "depths"}, "transform": [{"filter": "datum.p=='e'"}], "mark": {"type": "text", "fontSize": 18.5, "fontWeight": "bold", "align": "right", "baseline": "middle", "color": "black"},
      "encoding": {"x": {"field": "t", "type": "quantitative", "scale": {"domain": [0.536, 12.385], "nice": false, "zero": false}, "axis": null}, "y": {"field": "v", "type": "quantitative", "scale": {"domain": [0, 0.07], "nice": false, "zero": false}, "axis": null}, "text": {"field": "s"}}}
    ]
   }
  ],
  "spacing": 54,
  "bounds": "flush"
 }
],
"spacing": 143.3,
"bounds": "flush",
"resolve": {"scale": {"color": "independent"}, "legend": {"color": "independent"}}
}
